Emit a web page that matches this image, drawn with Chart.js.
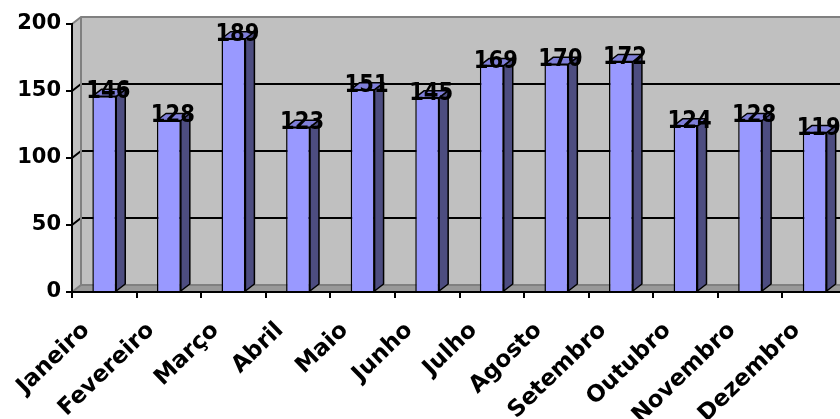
<!DOCTYPE html>
<html>
<head>
<meta charset="utf-8">
<script src="https://cdn.jsdelivr.net/npm/chart.js@4"></script>
<style>
  html, body { margin: 0; padding: 0; background: #fff; overflow: hidden; width: 840px; height: 419px; }
  #wrap { width: 860px; height: 419px; }
</style>
</head>
<body>
<div id="wrap"><canvas id="chart" width="860" height="419"></canvas></div>
<script>
const months = ["Janeiro", "Fevereiro", "Março", "Abril", "Maio", "Junho",
  "Julho", "Agosto", "Setembro", "Outubro", "Novembro", "Dezembro"];
const values = [146, 128, 189, 123, 151, 145, 169, 170, 172, 124, 128, 119];
const yTicks = [0, 50, 100, 150, 200];

// 3D depth offsets
const DX = 9;
const DY = 7;
const LABEL_FONT = "bold 24px 'DejaVu Sans'";

// back wall, side wall, floor and wall gridlines
const wallPlugin = {
  id: "wall",
  beforeDraw(chart) {
    const ctx = chart.ctx;
    const y = chart.scales.y;
    const L = chart.chartArea.left, R = chart.chartArea.right + 20;
    const T = y.getPixelForValue(200), B = y.getPixelForValue(0);
    ctx.save();
    ctx.fillStyle = "#c0c0c0";
    ctx.fillRect(L + DX, T - DY, R - L, B - T);
    ctx.beginPath();
    ctx.moveTo(L, T); ctx.lineTo(L + DX, T - DY); ctx.lineTo(L + DX, B - DY); ctx.lineTo(L, B);
    ctx.closePath(); ctx.fill();
    // floor
    ctx.fillStyle = "#999999";
    ctx.beginPath();
    ctx.moveTo(L, B); ctx.lineTo(L + DX, B - DY); ctx.lineTo(R + DX, B - DY); ctx.lineTo(R, B);
    ctx.closePath(); ctx.fill();
    // gridlines
    yTicks.forEach(v => {
      const py = y.getPixelForValue(v);
      const edge = v === 0 || v === 200;
      ctx.strokeStyle = edge ? "#808080" : "#000";
      ctx.lineWidth = 2;
      ctx.beginPath();
      ctx.moveTo(L, py); ctx.lineTo(L + DX, py - DY); ctx.lineTo(R + DX, py - DY);
      ctx.stroke();
    });
    // back wall left edge
    ctx.strokeStyle = "#808080";
    ctx.beginPath();
    ctx.moveTo(L + DX, T - DY); ctx.lineTo(L + DX, B - DY);
    ctx.stroke();
    ctx.restore();
  }
};

// bar sides, value labels, bar tops
const bar3dPlugin = {
  id: "bar3d",
  afterDatasetsDraw(chart) {
    const ctx = chart.ctx;
    const meta = chart.getDatasetMeta(0);
    ctx.save();
    ctx.lineWidth = 1.5;
    ctx.strokeStyle = "#000";
    ctx.lineJoin = "round";
    meta.data.forEach((el, i) => {
      const x0 = el.x - el.width / 2, x1 = el.x + el.width / 2;
      const top = el.y, base = el.base;
      // side
      ctx.fillStyle = "#4d4d80";
      ctx.beginPath();
      ctx.moveTo(x1, top); ctx.lineTo(x1 + DX, top - DY); ctx.lineTo(x1 + DX, base - DY); ctx.lineTo(x1, base);
      ctx.closePath(); ctx.fill(); ctx.stroke();
      // top fill
      ctx.fillStyle = "#7f7fd9";
      ctx.beginPath();
      ctx.moveTo(x0, top); ctx.lineTo(x0 + DX, top - DY); ctx.lineTo(x1 + DX, top - DY); ctx.lineTo(x1, top);
      ctx.closePath(); ctx.fill();
      // label, slightly narrowed
      ctx.save();
      ctx.translate(el.x + 4, top + 2);
      ctx.scale(0.88, 1);
      ctx.fillStyle = "#000";
      ctx.font = LABEL_FONT;
      ctx.textAlign = "center";
      ctx.textBaseline = "alphabetic";
      ctx.fillText(String(values[i]), 0, 0);
      ctx.restore();
      // top outline over text
      ctx.stroke();
    });
    ctx.restore();
  }
};

new Chart(document.getElementById("chart"), {
  type: "bar",
  data: {
    labels: months,
    datasets: [{
      data: values,
      backgroundColor: "#9999ff",
      borderColor: "#000",
      borderWidth: 1.5,
      barPercentage: 0.37,
      categoryPercentage: 1
    }]
  },
  options: {
    responsive: false,
    animation: false,
    layout: { padding: { top: 24, right: 13, left: 0, bottom: 0 } },
    plugins: { legend: { display: false }, tooltip: { enabled: false } },
    scales: {
      x: {
        offset: true,
        afterFit: s => { s.height = 127; },
        grid: { offset: true, drawOnChartArea: false, color: "#000", lineWidth: 2, tickLength: 6 },
        border: { color: "#000", width: 2 },
        ticks: {
          color: "#000",
          font: { family: "DejaVu Sans", weight: "bold", size: 23 },
          minRotation: 44, maxRotation: 44,
          autoSkip: false,
          padding: 19,
          labelOffset: -18
        }
      },
      y: {
        min: 0, max: 200,
        afterFit: s => { s.width = 72; },
        grid: { drawOnChartArea: false, color: "#000", lineWidth: 2, tickLength: 6 },
        border: { color: "#000", width: 2 },
        ticks: {
          stepSize: 50,
          color: "#000",
          padding: 5,
          font: { family: "DejaVu Sans", weight: "bold", size: 21 }
        }
      }
    }
  },
  plugins: [wallPlugin, bar3dPlugin]
});
</script>
</body>
</html>
